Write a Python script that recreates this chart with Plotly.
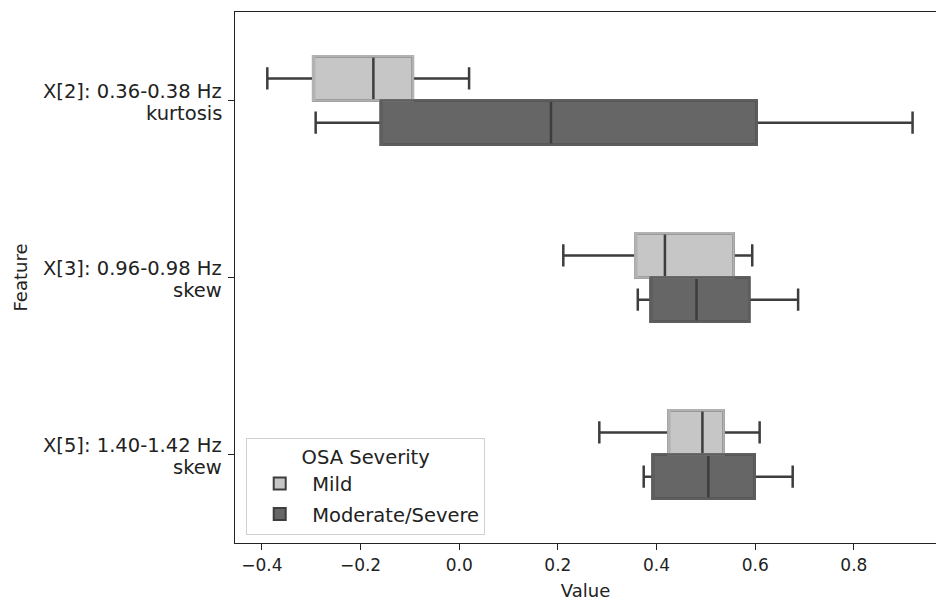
import plotly.graph_objects as go

features = ["X[2]: 0.36-0.38 Hz kurtosis",
            "X[3]: 0.96-0.98 Hz skew",
            "X[5]: 1.40-1.42 Hz skew"]
label_line1 = ["X[2]: 0.36-0.38 Hz", "X[3]: 0.96-0.98 Hz", "X[5]: 1.40-1.42 Hz"]
label_line2 = ["kurtosis", "skew", "skew"]
groups = ["Mild", "Moderate/Severe"]

mild_low = [-0.389, 0.211, 0.284]
mild_q1 = [-0.296, 0.357, 0.424]
mild_med = [-0.174, 0.417, 0.493]
mild_q3 = [-0.094, 0.556, 0.536]
mild_high = [0.020, 0.594, 0.609]

sev_low = [-0.291, 0.362, 0.374]
sev_q1 = [-0.159, 0.388, 0.392]
sev_med = [0.186, 0.481, 0.505]
sev_q3 = [0.603, 0.588, 0.599]
sev_high = [0.919, 0.687, 0.676]

fills = ["#c6c6c6", "#666666"]
edges = ["#b2b2b2", "#5e5e5e"]
line_dark = "#3d3d3d"

stats = [
    (mild_low, mild_q1, mild_med, mild_q3, mild_high),
    (sev_low, sev_q1, sev_med, sev_q3, sev_high),
]

FONT = "DejaVu Sans"
TXT = "#222222"
fig = go.Figure()

for i, (name, st) in enumerate(zip(groups, stats)):
    lo, q1, med, q3, hi = st
    fig.add_trace(go.Box(
        name=name, y=features, orientation="h",
        q1=q1, median=med, q3=q3, lowerfence=lo, upperfence=hi,
        fillcolor=fills[i], line=dict(color=line_dark, width=2.5),
        whiskerwidth=0.5, boxpoints=False, offsetgroup=name,
        legendgroup=name, showlegend=True, hoverinfo="skip",
    ))
for i, (name, st) in enumerate(zip(groups, stats)):
    lo, q1, med, q3, hi = st
    fig.add_trace(go.Box(
        name=name, y=features, orientation="h",
        q1=q1, median=q1, q3=q3, lowerfence=q1, upperfence=q3,
        fillcolor="rgba(0,0,0,0)", line=dict(color=edges[i], width=2.5),
        whiskerwidth=0, boxpoints=False, offsetgroup=name,
        legendgroup=name, showlegend=False, hoverinfo="skip",
    ))

# two-line category labels with tight (matplotlib-like) line spacing
for cat, l1, l2 in zip(features, label_line1, label_line2):
    fig.add_annotation(x=0, xref="paper", y=cat, yref="y", text=l1,
                       xanchor="right", yanchor="middle", xshift=-11, yshift=9,
                       showarrow=False, font=dict(family=FONT, size=19.5, color=TXT))
    fig.add_annotation(x=0, xref="paper", y=cat, yref="y", text=l2,
                       xanchor="right", yanchor="middle", xshift=-11, yshift=-12.5,
                       showarrow=False, font=dict(family=FONT, size=19.5, color=TXT))

fig.add_annotation(x=0, xref="paper", y=0.5, yref="paper", text="Feature",
                   textangle=-90, xanchor="center", yanchor="middle", xshift=-215,
                   showarrow=False, font=dict(family=FONT, size=18, color=TXT))

fig.update_layout(
    width=936, height=602,
    margin=dict(l=235, r=0, t=12, b=59, autoexpand=False),
    paper_bgcolor="white", plot_bgcolor="white",
    boxmode="group", boxgap=0.5, boxgroupgap=0.0,
    font=dict(family=FONT, size=17, color=TXT),
    showlegend=True,
    legend=dict(
        title=dict(text="OSA Severity", side="top center", font=dict(size=19.5)),
        x=0.016, y=0.015, xanchor="left", yanchor="bottom",
        bgcolor="rgba(255,255,255,0.85)", bordercolor="#d0d0d0", borderwidth=1,
        font=dict(size=19.5), itemsizing="constant", itemwidth=55, tracegroupgap=2,
    ),
    xaxis=dict(
        range=[-0.4545, 0.9665], tickvals=[-0.4, -0.2, 0.0, 0.2, 0.4, 0.6, 0.8],
        ticktext=["\u22120.4", "\u22120.2", "0.0", "0.2", "0.4", "0.6", "0.8"],
        ticks="outside", ticklen=6, tickwidth=1.3, tickcolor=TXT,
        showline=True, linecolor=TXT, linewidth=1.3, mirror=True,
        showgrid=False, zeroline=False, tickfont=dict(size=17),
        title=dict(text="Value", standoff=10, font=dict(size=18)),
    ),
    yaxis=dict(
        type="category", categoryorder="array", categoryarray=features,
        range=[2.5, -0.5], showticklabels=False,
        ticks="outside", ticklen=6, tickwidth=1.3, tickcolor=TXT,
        showline=True, linecolor=TXT, linewidth=1.3,
        showgrid=False, zeroline=False,
    ),
)

fig.write_html("out.html", config={"displayModeBar": False},
               post_script="document.body.style.margin='0';document.body.style.overflow='hidden';")
